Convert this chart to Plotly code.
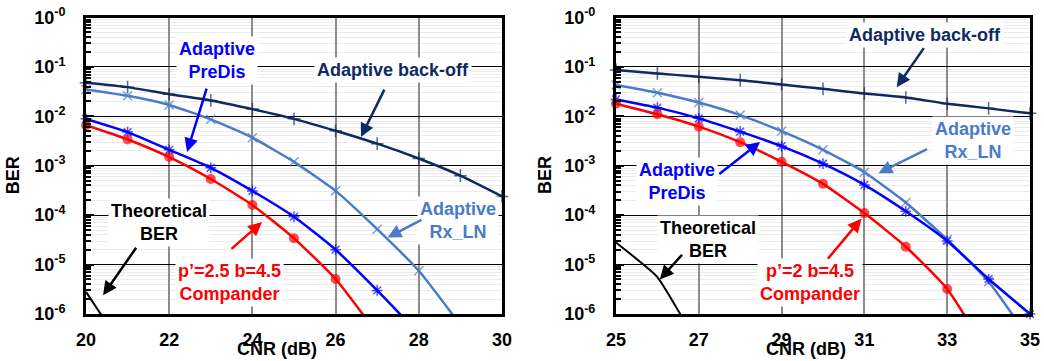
import plotly.graph_objects as go

# ---------------- data ----------------
cnr_left = [20, 21, 22, 23, 24, 25, 26, 27, 28, 29, 30]
backoff_left = [0.048, 0.039, 0.028, 0.021, 0.014, 0.0089, 0.0051, 0.0028, 0.0014, 6.3e-4, 2.4e-4]
rxln_left = [0.035, 0.026, 0.017, 0.0087, 0.0037, 0.0012, 3.1e-4, 5.2e-5, 7.5e-6, 6e-7]
predis_left = [0.0089, 0.0048, 0.0021, 9.1e-4, 3.1e-4, 9.3e-5, 2.0e-5, 3.0e-6, 4e-7]
compander_left = [0.0066, 0.0034, 0.0015, 5.4e-4, 1.6e-4, 3.4e-5, 5.1e-6, 4e-7]
theory_x_left = [20, 21]
theory_left = [2.8e-6, 1.5e-7]

cnr_right = [25, 26, 27, 28, 29, 30, 31, 32, 33, 34, 35]
backoff_right = [0.087, 0.074, 0.063, 0.054, 0.044, 0.036, 0.029, 0.024, 0.018, 0.0145, 0.0115]
rxln_right = [0.043, 0.030, 0.019, 0.0106, 0.0050, 0.0021, 7.4e-4, 1.8e-4, 3.2e-5, 4.5e-6, 3e-7]
predis_right = [0.022, 0.015, 0.0091, 0.0049, 0.0025, 0.0011, 4.1e-4, 1.2e-4, 3.0e-5, 5.1e-6, 1.0e-6]
compander_right = [0.018, 0.011, 0.0062, 0.0030, 0.0012, 4.3e-4, 1.1e-4, 2.3e-5, 3.2e-6, 1.5e-7]
theory_x_right = [25, 26, 27]
theory_right = [2.8e-5, 5.6e-6, 2.2e-7]

ber_ticks = [1, 1e-1, 1e-2, 1e-3, 1e-4, 1e-5, 1e-6]
ber_ticktext = ["10<sup>-0</sup>", "10<sup>-1</sup>", "10<sup>-2</sup>", "10<sup>-3</sup>",
                "10<sup>-4</sup>", "10<sup>-5</sup>", "10<sup>-6</sup>"]
cnr_ticks_left = [20, 22, 24, 26, 28, 30]
cnr_ticks_right = [25, 27, 29, 31, 33, 35]

# ---------------- styles ----------------
FONT = "Liberation Sans"
NAVY = "#0E2A62"
STEEL = "#4A7BC9"
BLUE = "#0000FF"
RED = "#FF0000"
BLACK = "#000000"
YMIN = 0.9e-6

fig = go.Figure()


def sizes(vals, s):
    return [s if v >= YMIN else 0 for v in vals]


def add_series(xs, ys, color, symbol, msize, xa, ya, filled=False):
    mk = dict(symbol=symbol, size=sizes(ys, msize), color=color,
              line=dict(color=color, width=1.5))
    if filled:
        mk["line"] = dict(width=0)
    fig.add_trace(go.Scatter(
        x=xs[:len(ys)], y=ys, mode="lines+markers", xaxis=xa, yaxis=ya,
        line=dict(color=color, width=2.5, shape="spline", smoothing=0.5),
        marker=mk, cliponaxis=False, showlegend=False, hoverinfo="skip"))


for xa, ya, xs, bo, rx, pd_, cp, tx, th in [
    ("x", "y", cnr_left, backoff_left, rxln_left, predis_left, compander_left, theory_x_left, theory_left),
    ("x2", "y2", cnr_right, backoff_right, rxln_right, predis_right, compander_right, theory_x_right, theory_right),
]:
    fig.add_trace(go.Scatter(x=tx, y=th, mode="lines", xaxis=xa, yaxis=ya,
                             line=dict(color=BLACK, width=2, shape="spline", smoothing=0.4),
                             showlegend=False, hoverinfo="skip"))
    add_series(xs, bo, NAVY, "cross-thin-open", 9, xa, ya)
    add_series(xs, rx, STEEL, "x-thin-open", 9, xa, ya)
    add_series(xs, pd_, BLUE, "asterisk-open", 9, xa, ya)
    add_series(xs, cp, RED, "circle", 10, xa, ya, filled=True)

# ---------------- axes ----------------
minor_vals = [m * 10.0 ** e for e in range(-6, 0) for m in range(2, 10)]

yax = dict(type="log", range=[-6, 0], domain=[0.1302, 0.9515], automargin=False,
           tickmode="array", tickvals=ber_ticks, ticktext=ber_ticktext,
           tickfont=dict(family=FONT, size=18, color="black", weight="bold"),
           ticks="inside", ticklen=8, tickwidth=2, tickcolor="black",
           ticklabelstandoff=14,
           showgrid=True, gridcolor="black", gridwidth=1,
           minor=dict(tickmode="array", tickvals=minor_vals, ticks="inside", ticklen=5,
                      tickwidth=2, tickcolor="black", showgrid=True,
                      gridcolor="#EBEBEB", gridwidth=1),
           showline=True, mirror=True, linecolor="black", linewidth=3,
           zeroline=False)
xax = dict(tickfont=dict(family=FONT, size=18, color="black", weight="bold"),
           ticks="", ticklabelstandoff=7, automargin=False,
           showgrid=True, gridcolor="#8C8C8C", gridwidth=1.5,
           showline=True, mirror=True, linecolor="black", linewidth=3,
           zeroline=False)

fig.update_layout(
    width=1044, height=361,
    margin=dict(l=0, r=0, t=0, b=0, autoexpand=False),
    paper_bgcolor="white", plot_bgcolor="white",
    xaxis=dict(xax, domain=[0.0824, 0.4808], range=[20, 30], tickvals=cnr_ticks_left),
    xaxis2=dict(xax, domain=[0.590, 0.9866], range=[25, 35], tickvals=cnr_ticks_right, anchor="y2"),
    yaxis=dict(yax, anchor="x"),
    yaxis2=dict(yax, anchor="x2"),
)

ann = []


def label(xr, yr, x, ly, text, color):
    ann.append(dict(xref=xr, yref=yr, x=x, y=ly, text=text, showarrow=False,
                    font=dict(family=FONT, size=18, color=color, weight="bold"),
                    bgcolor="white", borderpad=2, xanchor="center", yanchor="middle"))


def arrow(xr, yr, x0, y0, x1, y1, color):
    ann.append(dict(xref=xr, yref=yr, axref=xr, ayref=yr, x=x1, y=y1, ax=x0, ay=y0,
                    text="", showarrow=True, arrowhead=2, arrowsize=1.1, arrowwidth=2.5,
                    arrowcolor=color, standoff=0, startstandoff=0))


# left panel
label("x", "y", 23.15, -0.86, "Adaptive<br>PreDis", BLUE)
arrow("x", "y", 22.91, -1.41, 22.43, -2.72, BLUE)
label("x", "y", 27.38, -1.06, "Adaptive back-off", NAVY)
arrow("x", "y", 27.19, -1.43, 26.61, -2.42, NAVY)
label("x", "y", 28.94, -4.10, "Adaptive<br>Rx_LN", STEEL)
arrow("x", "y", 28.10, -4.08, 27.25, -4.45, STEEL)
label("x", "y", 21.75, -4.14, "Theoretical<br>BER", BLACK)
arrow("x", "y", 21.23, -4.63, 20.41, -5.62, BLACK)
label("x", "y", 23.46, -5.37, "p\u2019=2.5 b=4.5<br>Compander", RED)
arrow("x", "y", 23.46, -4.71, 24.23, -4.14, RED)

# right panel
label("x2", "y2", 32.46, -0.35, "Adaptive back-off", NAVY)
arrow("x2", "y2", 32.46, -0.59, 31.78, -1.41, NAVY)
label("x2", "y2", 33.62, -2.48, "Adaptive<br>Rx_LN", STEEL)
arrow("x2", "y2", 32.55, -2.65, 31.34, -3.15, STEEL)
label("x2", "y2", 26.47, -3.31, "Adaptive<br>PreDis", BLUE)
arrow("x2", "y2", 27.46, -3.19, 28.48, -2.52, BLUE)
label("x2", "y2", 27.22, -4.50, "Theoretical<br>BER", BLACK)
arrow("x2", "y2", 26.63, -4.77, 26.06, -5.30, BLACK)
label("x2", "y2", 29.69, -5.37, "p\u2019=2 b=4.5<br>Compander", RED)
arrow("x2", "y2", 30.09, -4.91, 30.93, -4.07, RED)

# axis titles
for x, text in [(0.2653, "CNR (dB)"), (0.772, "CNR (dB)")]:
    ann.append(dict(xref="paper", yref="paper", x=x, y=0.0, text=text, showarrow=False,
                    font=dict(family=FONT, size=18, color="black", weight="bold"),
                    xanchor="center", yanchor="bottom"))
for x in [0.0125, 0.522]:
    ann.append(dict(xref="paper", yref="paper", x=x, y=0.515, text="BER", showarrow=False,
                    textangle=-90,
                    font=dict(family=FONT, size=18, color="black", weight="bold"),
                    xanchor="center", yanchor="middle"))

fig.update_layout(annotations=ann)
fig.write_html("out.html", config={"displayModeBar": False},
               post_script="document.body.style.margin='0';document.body.style.overflow='hidden';")
